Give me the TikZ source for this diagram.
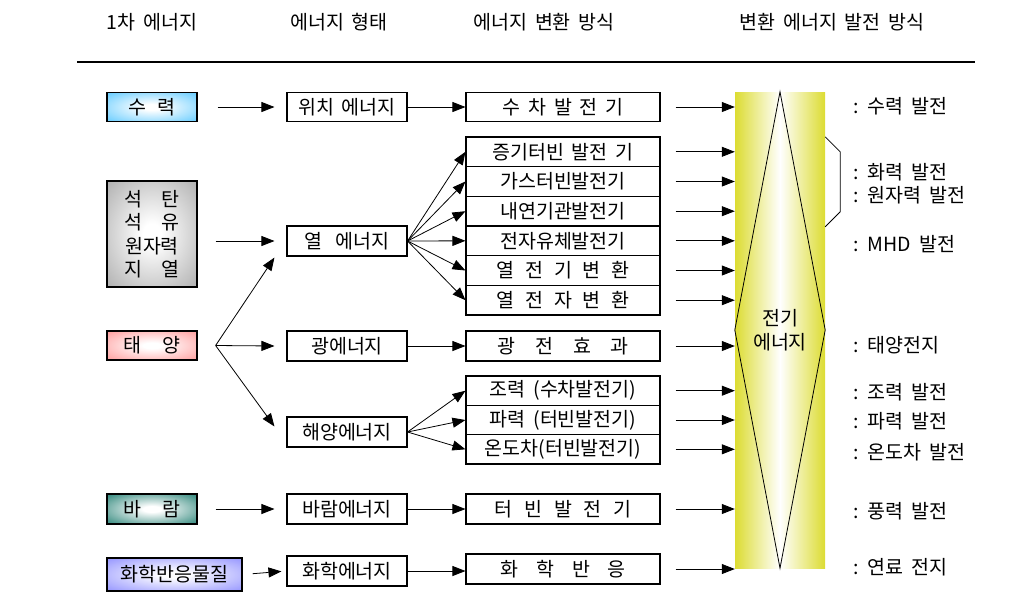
\documentclass[tikz,border=0pt]{standalone}
\usepackage{fontspec}
\setmainfont{Noto Sans CJK KR}[WordSpace={1.8,0,0}]
\usetikzlibrary{arrows.meta,calc}
\newcommand\kfont{\fontsize{19.5pt}{23.5pt}\selectfont}
\newcommand\gp[1]{\hspace{#1pt}}
\definecolor{glowcol}{RGB}{102,204,255}
\pgfdeclareradialshading[glowcol]{boxglow}{\pgfpoint{0bp}{0bp}}{color(0bp)=(white); color(5bp)=(white); color(38bp)=(glowcol); color(50bp)=(glowcol)}
\definecolor{barY}{RGB}{220,220,50}
\definecolor{cHydro}{RGB}{90,200,255}
\definecolor{cFossil}{RGB}{170,170,170}
\definecolor{cSolar}{RGB}{255,150,150}
\definecolor{cWind}{RGB}{30,125,112}
\definecolor{cChem}{RGB}{140,140,255}
\tikzset{
  glowbox/.style={draw, line width=1.2pt, inner sep=0pt, /utils/exec={\colorlet{glowcol}{#1}}, shading=boxglow},
  plainbox/.style={draw, line width=1.1pt, inner sep=0pt, fill=white},
  arr/.style={line width=0.8pt, -{Triangle[length=13pt,width=10pt]}},
  lbl/.style={anchor=west, inner sep=0pt},
  hdr/.style={inner sep=0pt}
}
\begin{document}
\begin{tikzpicture}[x=1pt,y=-1pt,font=\kfont]
\useasboundingbox (0,0) rectangle (1030,606);

% headers
\node[hdr] (h1) at (152,22) {1차 에너지};
\node[hdr] (h2) at (339,22) {에너지 형태};
\node[hdr] (h3) at (544,22) {에너지 변환 방식};
\node[hdr] (h4) at (832,22) {변환 에너지 발전 방식};
\draw[line width=1.4pt] (77,62) -- (975,62);

% column 1
\node[glowbox=cHydro, minimum width=90pt, minimum height=29pt] (hydro) at (152,107) {수\gp{12}력};
\node[glowbox=cFossil, minimum width=90pt, minimum height=106pt, align=center] (fossil) at (152,234) {석　탄\\석　유\\원자력\\지　열};
\node[glowbox=cSolar, minimum width=90pt, minimum height=29pt] (solar) at (152,345.5) {태\gp{21}양};
\node[glowbox=cWind, minimum width=90pt, minimum height=30pt] (wind) at (152,509) {바\gp{21}람};
\node[glowbox=cChem, minimum width=135pt, minimum height=33pt] (chem) at (174.5,574.5) {화학반응물질};

% column 2
\node[plainbox, minimum width=120pt, minimum height=29pt] (pot) at (347,107) {위치 에너지};
\node[plainbox, minimum width=120pt, minimum height=30pt] (heat) at (347,241) {열\gp{13}에너지};
\node[plainbox, minimum width=120pt, minimum height=30pt] (light) at (347,346) {광에너지};
\node[plainbox, minimum width=120pt, minimum height=30pt] (ocean) at (347,432) {해양에너지};
\node[plainbox, minimum width=120pt, minimum height=30pt] (windE) at (347,509) {바람에너지};
\node[plainbox, minimum width=120pt, minimum height=30pt] (chemE) at (347,571) {화학에너지};

% column 3
\node[plainbox, minimum width=194pt, minimum height=29pt] (wt) at (563,107) {수\gp{8}차\gp{8}발\gp{8}전\gp{8}기};
\node[plainbox, minimum width=194pt, minimum height=29.67pt] (s1) at (563,151.8) {증기터빈 발전 기};
\node[plainbox, minimum width=194pt, minimum height=29.67pt] (s2) at (563,181.5) {가스터빈발전기};
\node[plainbox, minimum width=194pt, minimum height=29.67pt] (s3) at (563,211.2) {내연기관발전기};
\node[plainbox, minimum width=194pt, minimum height=29.67pt] (s4) at (563,240.8) {전자유체발전기};
\node[plainbox, minimum width=194pt, minimum height=29.67pt] (s5) at (563,270.5) {열\gp{11}전\gp{11}기\gp{11}변\gp{11}환};
\node[plainbox, minimum width=194pt, minimum height=29.67pt] (s6) at (563,300.2) {열\gp{11}전\gp{11}자\gp{11}변\gp{11}환};
\node[plainbox, minimum width=194pt, minimum height=30pt] (photo) at (563,346) {광\gp{20}전\gp{20}효\gp{20}과};
\node[plainbox, minimum width=194pt, minimum height=29.33pt] (o1) at (563,390.7) {조력 (수차발전기)};
\node[plainbox, minimum width=194pt, minimum height=29.33pt] (o2) at (563,420) {파력 (터빈발전기)};
\node[plainbox, minimum width=194pt, minimum height=29.33pt] (o3) at (563,449.3) {온도차(터빈발전기)};
\node[plainbox, minimum width=194pt, minimum height=30pt] (wtb) at (563,509) {터\gp{12}빈\gp{12}발\gp{12}전\gp{12}기};
\node[plainbox, minimum width=194pt, minimum height=30pt] (cr) at (563,569) {화\gp{18}학\gp{18}반\gp{18}응};

% bar
\node[minimum width=90pt, minimum height=476pt, inner sep=0pt, left color=barY, right color=barY, middle color=white] (bar) at (780,330) {};
\draw[line width=0.8pt] (bar.north) -- (bar.west) -- (bar.south) -- (bar.east) -- cycle;
\node[align=center, inner sep=0pt] (elec) at (780,330) {전기\\에너지};
\draw[line width=0.8pt] ($(bar.north east)+(0,45)$) -- ($(bar.north east)+(15,60)$) -- ($(bar.north east)+(15,120)$) -- ($(bar.north east)+(0,135)$);

% right labels
\node[lbl] (l1) at (853,106) {: 수력 발전};
\node[lbl] (l2) at (853,172) {: 화력 발전};
\node[lbl] (l3) at (853,195) {: 원자력 발전};
\node[lbl] (l4) at (853,244) {: MHD 발전};
\node[lbl] (l5) at (853,345) {: 태양전지};
\node[lbl] (l6) at (853,392) {: 조력 발전};
\node[lbl] (l7) at (853,421) {: 파력 발전};
\node[lbl] (l8) at (853,452) {: 온도차 발전};
\node[lbl] (l9) at (853,511) {: 풍력 발전};
\node[lbl] (l10) at (853,567) {: 연료 전지};

% column 1 -> column 2
\draw[arr, shorten <=20pt, shorten >=12pt] (hydro.east) -- (pot.west);
\draw[arr, shorten <=18pt, shorten >=12pt] (fossil.east |- heat.west) -- (heat.west);
\draw[arr, shorten <=18pt, shorten >=12pt] (wind.east) -- (windE.west);
\draw[arr, shorten <=10pt, shorten >=5pt] (chem.east) -- (chemE.west);
\coordinate (sfan) at ($(solar.east)+(18,0)$);
\coordinate (sUp) at ($(heat.south west)+(-12,1)$);
\coordinate (sMid) at ($(light.west)+(-12,0)$);
\coordinate (sDn) at ($(ocean.north west)+(-12,10)$);
\draw[arr] (sfan) -- (sUp);
\draw[arr] (sfan) -- (sMid);
\draw[arr] (sfan) -- (sDn);

% column 2 -> column 3
\draw[arr] (pot.east) -- (wt.west);
\foreach \s in {s1,s2,s3,s4,s5,s6} \draw[arr] (heat.east) -- (\s.west);
\draw[arr] (light.east) -- (photo.west);
\foreach \s in {o1,o2,o3} \draw[arr] (ocean.east) -- (\s.west);
\draw[arr] (windE.east) -- (wtb.west);
\draw[arr] (chemE.east) -- (chemE.east -| cr.west);

% column 3 -> bar
\foreach \s in {wt,s1,s2,s3,s4,s5,s6,photo,o1,o2,o3,wtb,cr}
  \draw[arr, shorten <=15pt] (\s.east) -- (\s.east -| bar.west);
\end{tikzpicture}
\end{document}
